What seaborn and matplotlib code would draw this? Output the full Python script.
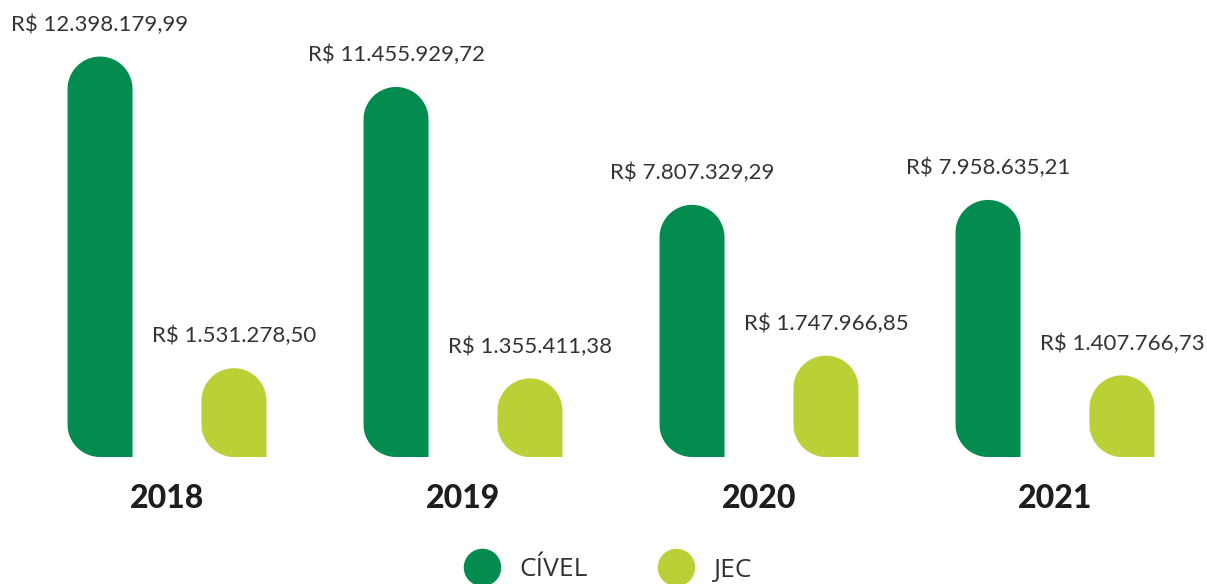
import numpy as np
import pandas as pd
import matplotlib
matplotlib.use("Agg")
import matplotlib.pyplot as plt
import seaborn as sns
from matplotlib.patches import Polygon
from matplotlib.lines import Line2D
from matplotlib.transforms import blended_transform_factory

# Dados
anos = ["2018", "2019", "2020", "2021"]
civel = [12398179.99, 11455929.72, 7807329.29, 7958635.21]
jec = [1531278.50, 1355411.38, 1747966.85, 1407766.73]
series = ["CÍVEL", "JEC"]
cores = {"CÍVEL": "#038B50", "JEC": "#BBD036"}

sns.set_theme(style="white")
plt.rcParams["font.family"] = ["Lato", "DejaVu Sans"]


def brl(v):
    s = f"{v:,.2f}".replace(",", "X").replace(".", ",").replace("X", ".")
    return "R$ " + s


def forma(cx, h, bw, ry, n=40):
    # topo arredondado + canto inferior esquerdo arredondado
    r = bw / 2
    t = np.linspace(0, np.pi, n)
    topo = np.column_stack([cx + r * np.cos(t), h - ry + ry * np.sin(t)])
    t2 = np.linspace(np.pi, 1.5 * np.pi, n // 2)
    base = np.column_stack([cx + r * np.cos(t2), ry + ry * np.sin(t2)])
    return np.vstack([[cx + r, 0], topo, base, [cx + r, 0]])


df_civel = pd.DataFrame({"ano": anos, "valor": civel, "tipo": "CÍVEL"})
df_jec = pd.DataFrame({"ano": anos, "valor": jec, "tipo": "JEC"})

W, H = 1207, 584
fig = plt.figure(figsize=(W / 100, H / 100), dpi=100)
ax = fig.add_axes([0, 0, 1, 1])
ax2 = ax.twinx()

sns.barplot(data=df_civel, x="ano", y="valor", hue="tipo", hue_order=series,
            palette=cores, saturation=1, width=0.905, dodge=True, ax=ax, legend=False)
sns.barplot(data=df_jec, x="ano", y="valor", hue="tipo", hue_order=series,
            palette=cores, saturation=1, width=0.905, dodge=True, ax=ax2, legend=False)

# escalas (px por unidade)
px_x = 296
cx0 = 167
baseline = 457
escalas = {ax: 32.3e-6, ax2: 58e-6}

ax.set_xlim(-cx0 / px_x, (W - cx0) / px_x)
for a, k in escalas.items():
    a.set_ylim(-(H - baseline) / k, baseline / k)
    a.axis("off")

bw = 65 / px_x
for a, k in escalas.items():
    ry = 32.5 / k
    for p in list(a.patches):
        h = p.get_height()
        if np.isnan(h) or h == 0:
            continue
        cx = p.get_x() + p.get_width() / 2
        p.set_visible(False)
        a.add_patch(Polygon(forma(cx, h, bw, ry), closed=True,
                            facecolor=p.get_facecolor(), edgecolor="none"))
        a.annotate(brl(h), (cx, h), xytext=(0, 23), textcoords="offset points",
                   ha="center", va="center", fontsize=16, color="#333333",
                   fontweight="normal")

trans = blended_transform_factory(ax.transData, fig.transFigure)
for i, ano in enumerate(anos):
    ax.text(i, 1 - 498 / H, ano, transform=trans, ha="center", va="center",
            fontsize=23, fontweight="black", color="#1e1e1e")

handles = [Line2D([], [], marker="o", ls="", markersize=27,
                  markerfacecolor=cores[s], markeredgecolor="none") for s in series]
fig.legend(handles, series, loc="center", bbox_to_anchor=(0.500, 1 - 570 / H),
           ncol=2, frameon=False, handletextpad=0.4, columnspacing=2.33,
           prop={"family": ["Open Sans", "DejaVu Sans"], "size": 19}, labelcolor="#333333")

fig.savefig("out.png", dpi=100)
